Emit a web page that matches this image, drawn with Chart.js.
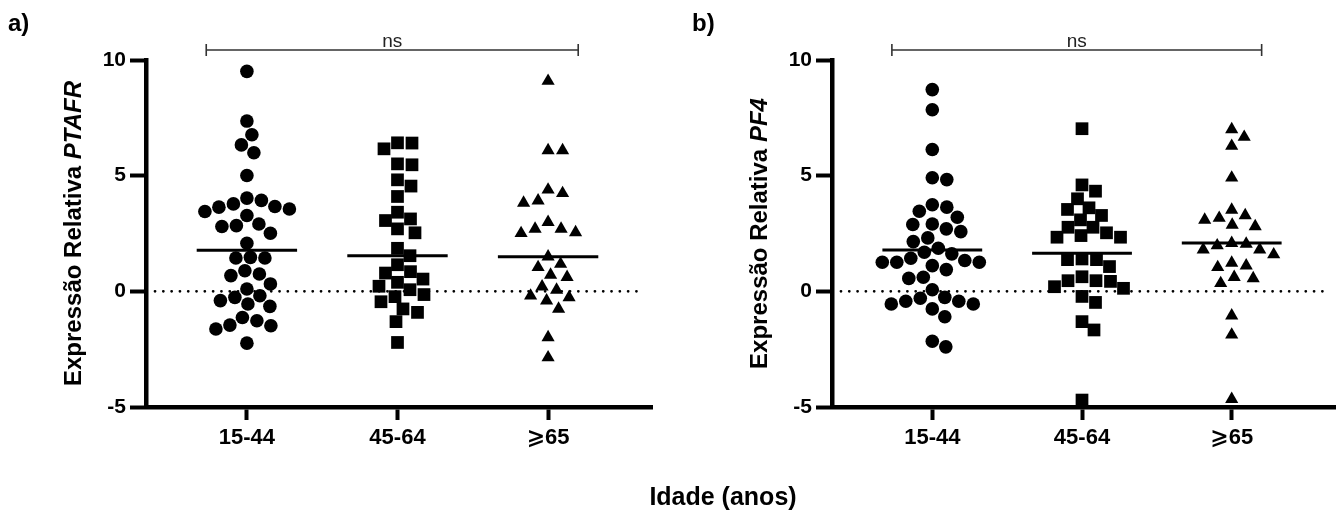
<!DOCTYPE html>
<html>
<head>
<meta charset="utf-8">
<script src="https://cdn.jsdelivr.net/npm/chart.js@4.4.1/dist/chart.umd.min.js"></script>
<style>
  body { margin: 0; background: #fff; }
  #wrap { position: relative; width: 1341px; height: 513px; background: #fff; overflow: hidden; }
  .panel { position: absolute; top: 0; }
  .lbl { position: absolute; font-family: 'Liberation Sans', Arial, sans-serif; font-weight: bold; color: #000; white-space: nowrap; }
</style>
</head>
<body>
<div id="wrap">
  <canvas id="chartA" class="panel" width="670" height="513" style="left:0px"></canvas>
  <canvas id="chartB" class="panel" width="655" height="513" style="left:686px"></canvas>
  <div class="lbl" style="left:8px;top:9px;font-size:24px">a)</div>
  <div class="lbl" style="left:692px;top:9px;font-size:24px">b)</div>
  <div class="lbl" style="left:623px;top:482px;font-size:25px;width:200px;text-align:center">Idade (anos)</div>
</div>
<script>
// Categories
const categories = ['15-44', '45-64', '⩾65'];

// a) PTAFR - relative expression per age group
const ptafr1544 = [9.51, 7.36, 6.77, 6.33, 5.99, 5.01, 4.03, 3.93, 3.78, 3.56, 3.64, 3.67, 3.45, 3.28, 2.91, 2.84, 2.80, 2.51, 2.08,
    1.44, 1.44, 1.47, 0.89, 0.68, 0.75, 0.32, 0.10, -0.26, -0.40, -0.55, -0.19, -0.65, -1.27, -1.46, -1.13, -1.49, -1.63, -2.24];
const ptafr4564 = [6.41, 6.42, 6.16, 5.47, 5.51, 4.82, 4.55, 4.10, 3.42, 3.13, 3.06, 2.70, 2.53, 1.86, 1.54,
    1.15, 0.85, 0.79, 0.39, 0.53, 0.22, 0.07, -0.14, -0.45, -0.23, -0.76, -0.91, -1.31, -2.21];
const ptafr65 = [9.09, 6.09, 6.09, 4.24, 4.39, 3.92, 3.82, 2.99, 2.70, 2.70, 2.51, 2.55, 1.50,
    1.18, 0.71, 1.04, 0.61, 0.20, -0.19, 0.06, -0.26, -0.40, -0.76, -1.99, -2.86];

// b) PF4 - relative expression per age group
const pf41544 = [8.72, 7.85, 6.13, 4.83, 4.91, 3.74, 3.64, 3.46, 3.20, 2.91, 2.70, 2.89, 2.58, 2.31, 2.15, 1.86, 1.69, 1.43, 1.62,
    1.26, 1.26, 1.26, 0.94, 1.11, 1.33, 0.61, 0.56, 0.07, -0.26, -0.55, -0.30, -0.43, -0.43, -0.55, -0.76, -1.10, -2.16, -2.40];
const pf44564 = [7.03, 4.60, 4.33, 4.00, 3.61, 3.54, 3.28, 3.09, 2.77, 2.77, 2.53, 2.41, 2.34, 2.34, 1.37,
    1.40, 1.37, 1.07, 0.46, 0.46, 0.63, 0.43, 0.13, 0.20, -0.22, -0.48, -1.31, -1.67, -4.70];
const pf465 = [7.00, 6.67, 6.28, 4.91, 3.52, 3.28, 3.17, 3.09, 2.87, 2.81, 2.05, 2.08, 1.98, 1.80, 1.80,
    1.59, 1.23, 1.11, 1.04, 0.56, 0.61, 0.35, -1.05, -1.88, -4.66];

// Y ticks
const yTicks = [-5, 0, 5, 10];

const FONT = "'Liberation Sans', Arial, 'DejaVu Sans', sans-serif";
const X_MIN = -0.67, X_MAX = 2.69;
const BRACKET = [-0.27, 2.2];

function median(arr) {
    const s = arr.slice().sort((a, b) => a - b);
    const m = Math.floor(s.length / 2);
    return s.length % 2 ? s[m] : (s[m - 1] + s[m]) / 2;
}
function mean(arr) {
    return arr.reduce((a, b) => a + b, 0) / arr.length;
}

const markers = [
    { style: 'circle', radius: 6.8 },
    { style: 'rect', radius: 9 },
    { style: 'triangle', radius: 7.6 }
];

// bracket + "ns" + y axis title with italic gene name
const decor = {
    id: 'decor',
    afterDraw(chart, args, opts) {
        const ctx = chart.ctx, xs = chart.scales.x, area = chart.chartArea;
        ctx.save();
        const x1 = xs.getPixelForValue(BRACKET[0]);
        const x2 = xs.getPixelForValue(BRACKET[1]);
        const by = area.top - 10;
        ctx.strokeStyle = '#333';
        ctx.lineWidth = 1.6;
        ctx.beginPath();
        ctx.moveTo(x1, by); ctx.lineTo(x2, by);
        ctx.moveTo(x1, by - 6); ctx.lineTo(x1, by + 6);
        ctx.moveTo(x2, by - 6); ctx.lineTo(x2, by + 6);
        ctx.stroke();
        ctx.fillStyle = '#222';
        ctx.font = "19px " + FONT;
        ctx.textAlign = 'center';
        ctx.textBaseline = 'alphabetic';
        ctx.fillText('ns', (x1 + x2) / 2, by - 3);

        // y title
        ctx.translate(area.left - 72, (area.top + area.bottom) / 2);
        ctx.rotate(-Math.PI / 2);
        const f1 = "bold 24px " + FONT, f2 = "italic bold 24px " + FONT;
        ctx.font = f1;
        const w1 = ctx.measureText(opts.title).width;
        ctx.font = f2;
        const w2 = ctx.measureText(opts.gene).width;
        const sx = -(w1 + w2) / 2;
        ctx.fillStyle = '#000';
        ctx.textAlign = 'left';
        ctx.textBaseline = 'middle';
        ctx.font = f1;
        ctx.fillText(opts.title, sx, 0);
        ctx.font = f2;
        ctx.fillText(opts.gene, sx + w1, 0);
        ctx.restore();
    }
};

// spread points sideways like a column scatter (beeswarm)
function arrange(chart) {
    const xs = chart.scales.x, ys = chart.scales.y;
    chart.data.datasets.forEach(ds => {
        if (ds.group === undefined) return;
        const cx = xs.getPixelForValue(ds.group);
        const d = 14.5;
        const items = ds.data.map(p => ({ p: p, py: ys.getPixelForValue(p.y) }));
        items.sort((a, b) => a.py - b.py);
        const placed = [];
        items.forEach(it => {
            let px = cx;
            for (let k = 0; k < 400; k++) {
                const cand = cx + (k % 2 ? 1 : -1) * Math.ceil(k / 2) * 0.5;
                const ok = placed.every(q => (cand - q.px) ** 2 + (it.py - q.py) ** 2 >= d * d);
                if (ok) { px = cand; break; }
            }
            placed.push({ px: px, py: it.py });
            it.p.x = xs.getValueForPixel(px);
        });
    });
    chart.update('none');
}

function makeChart(id, groups, stat, gene) {
    const datasets = [];
    // dotted zero line
    datasets.push({
        type: 'line',
        data: [{ x: X_MIN + 0.06, y: 0 }, { x: X_MAX - 0.05, y: 0 }],
        borderColor: '#000',
        borderWidth: 2.8,
        borderDash: [0, 8.3],
        borderCapStyle: 'round',
        pointRadius: 0,
        order: 3
    });
    groups.forEach((vals, i) => {
        datasets.push({
            type: 'scatter',
            group: i,
            data: vals.map(v => ({ x: i, y: v })),
            pointStyle: markers[i].style,
            pointRadius: markers[i].radius,
            backgroundColor: '#000',
            borderColor: '#000',
            borderWidth: 0,
            clip: false,
            order: 2
        });
    });
    groups.forEach((vals, i) => {
        const s = stat(vals);
        datasets.push({
            type: 'line',
            data: [{ x: i - 1 / 3, y: s }, { x: i + 1 / 3, y: s }],
            borderColor: '#000',
            borderWidth: 3,
            pointRadius: 0,
            order: 1
        });
    });

    const chart = new Chart(document.getElementById(id), {
        type: 'scatter',
        data: { datasets: datasets },
        plugins: [decor],
        options: {
            responsive: false,
            animation: false,
            events: [],
            layout: { autoPadding: false, padding: { top: 60, left: 0, right: id === 'chartA' ? 18 : 6, bottom: 0 } },
            plugins: {
                legend: { display: false },
                tooltip: { enabled: false },
                decor: { title: 'Expressão Relativa ', gene: gene }
            },
            scales: {
                x: {
                    type: 'linear',
                    min: X_MIN,
                    max: X_MAX,
                    afterBuildTicks: s => { s.ticks = categories.map((c, i) => ({ value: i })); },
                    afterFit: s => { s.height = 106; },
                    ticks: {
                        callback: v => categories[v],
                        color: '#000',
                        font: { family: FONT, size: 22, weight: 'bold' },
                        padding: 5,
                        maxRotation: 0,
                        autoSkip: false
                    },
                    grid: { drawOnChartArea: false, drawTicks: true, tickLength: 13, tickWidth: 4, tickColor: '#000' },
                    border: { display: true, color: '#000', width: 4.5 }
                },
                y: {
                    min: -5,
                    max: 10,
                    afterBuildTicks: s => { s.ticks = yTicks.map(v => ({ value: v })); },
                    afterFit: s => { s.width = 146; },
                    ticks: {
                        color: '#000',
                        font: { family: FONT, size: 21, weight: 'bold' },
                        padding: 4
                    },
                    grid: { drawOnChartArea: false, drawTicks: true, tickLength: 16, tickWidth: 4, tickColor: '#000' },
                    border: { display: true, color: '#000', width: 4.5 }
                }
            }
        }
    });
    arrange(chart);
    return chart;
}

makeChart('chartA', [ptafr1544, ptafr4564, ptafr65], median, 'PTAFR');
makeChart('chartB', [pf41544, pf44564, pf465], mean, 'PF4');
</script>
</body>
</html>
